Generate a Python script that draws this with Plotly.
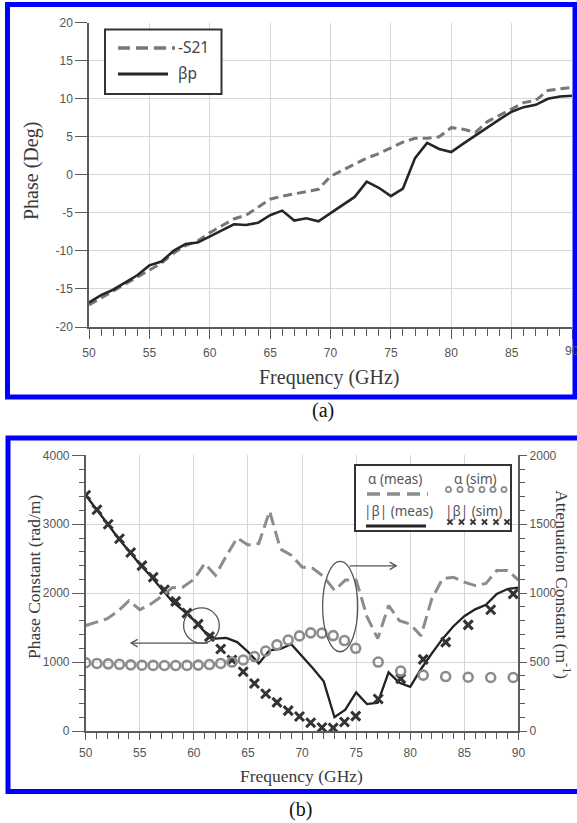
import plotly.graph_objects as go

W, H = 577, 823

# ---------------- (a) phase of -S21 and beta*p ----------------
freq_a = list(range(50, 91))
phase_s21 = [-17.1, -16.2, -15.3, -14.4, -13.4, -12.5, -11.6, -10.3, -9.3, -8.7,
             -7.6, -6.7, -5.8, -5.3, -4.3, -3.2, -2.8, -2.5, -2.2, -1.9,
             -0.2, 0.6, 1.4, 2.2, 2.8, 3.5, 4.3, 4.8, 4.8, 5.0,
             6.2, 6.0, 5.6, 7.0, 7.8, 8.7, 9.5, 9.8, 11.1, 11.3, 11.5]
phase_bp = [-16.8, -15.8, -15.1, -14.2, -13.2, -11.9, -11.4, -10.0, -9.1, -8.9,
            -8.1, -7.3, -6.5, -6.6, -6.3, -5.3, -4.7, -6.0, -5.7, -6.1,
            -5.0, -3.9, -2.9, -0.9, -1.7, -2.8, -1.8, 2.2, 4.2, 3.4,
            3.0, 4.1, 5.2, 6.3, 7.3, 8.3, 8.9, 9.2, 10.0, 10.3, 10.4]

# ---------------- (b) phase / attenuation constants ----------------
freq_meas = list(range(50, 91))
beta_meas = [3420, 3220, 3010, 2800, 2610, 2420, 2250, 2060, 1880, 1750,
             1610, 1440, 1340, 1350, 1290, 1150, 980, 1170, 1190, 1260,
             1090, 910, 720, 200, 310, 560, 390, 410, 850, 700,
             640, 900, 1125, 1340, 1520, 1665, 1765, 1830, 1990, 2060, 2080]
alpha_meas = [765, 790, 815, 870, 945, 880, 920, 975, 1040, 1045,
              1100, 1215, 1130, 1270, 1400, 1350, 1360, 1595, 1320, 1275,
              1190, 1180, 1120, 1020, 1095, 1095, 830, 670, 910, 800,
              775, 690, 960, 1105, 1115, 1080, 1055, 1070, 1165, 1165, 1095]

freq_sim = [50.00, 51.04, 52.08, 53.12, 54.16, 55.20, 56.24, 57.28, 58.32, 59.36,
            60.40, 61.44, 62.48, 63.52, 64.56, 65.60, 66.64, 67.68, 68.72, 69.76,
            70.80, 71.84, 72.88, 73.92, 74.96, 77.04, 79.12, 81.20, 83.28, 85.36,
            87.44, 89.52]
beta_sim = [3420, 3210, 3000, 2790, 2590, 2400, 2230, 2050, 1880, 1710,
            1550, 1370, 1190, 1030, 860, 690, 540, 415, 295, 210,
            120, 50, 45, 130, 215, 465, 760, 1040, 1290, 1540,
            1760, 1990]
alpha_sim = [495, 490, 487, 484, 480, 477, 476, 475, 475, 476,
             478, 482, 490, 500, 515, 540, 580, 625, 660, 690,
             712, 710, 692, 656, 600, 500, 435, 405, 395, 390,
             388, 388]

# tick labels
freq_ticks = [50, 55, 60, 65, 70, 75, 80, 85, 90]
freq_labels = [str(v) for v in freq_ticks]
phase_ticks = [-20, -15, -10, -5, 0, 5, 10, 15, 20]
phase_labels = [str(v) for v in phase_ticks]
beta_ticks = [0, 1000, 2000, 3000, 4000]
alpha_ticks = [0, 500, 1000, 1500, 2000]

GRID = "#d6d6d6"
AXIS = "#5c5c5c"
TICKFONT = dict(family="Liberation Sans Narrow, Liberation Sans, Arial", size=12, color="#555555")
SERIF = "Liberation Serif, Times New Roman, serif"
SANS = "Noto Sans, Open Sans, sans-serif"


def px(x):
    return x / W


def py(y):
    return 1 - y / H


fig = go.Figure()

# (a)
fig.add_trace(go.Scatter(x=freq_a, y=phase_s21, mode="lines", xaxis="x", yaxis="y",
                         line=dict(color="#777777", width=3, dash="9px,5px")))
fig.add_trace(go.Scatter(x=freq_a, y=phase_bp, mode="lines", xaxis="x", yaxis="y",
                         line=dict(color="#262626", width=2.6)))

# (b)
fig.add_trace(go.Scatter(x=freq_meas, y=alpha_meas, mode="lines", xaxis="x2", yaxis="y3",
                         line=dict(color="#8c8c8c", width=3, dash="13px,6px")))
fig.add_trace(go.Scatter(x=freq_sim, y=alpha_sim, mode="markers", xaxis="x2", yaxis="y3",
                         marker=dict(symbol="circle-open", size=9, color="#8c8c8c",
                                     line=dict(width=2.6, color="#8c8c8c"))))
fig.add_trace(go.Scatter(x=freq_meas, y=beta_meas, mode="lines", xaxis="x2", yaxis="y2",
                         line=dict(color="#222222", width=2.3)))
fig.add_trace(go.Scatter(x=freq_sim, y=beta_sim, mode="markers", xaxis="x2", yaxis="y2",
                         marker=dict(symbol="x-thin", size=9, color="#333333",
                                     line=dict(width=3, color="#333333"))))

common_x = dict(range=[50, 90], tickmode="array", tickvals=freq_ticks, showgrid=True,
                gridcolor=GRID, gridwidth=1, showline=True, linecolor=AXIS, linewidth=1.5,
                ticks="outside", tickcolor=AXIS, tickwidth=1, zeroline=False,
                tickfont=TICKFONT, automargin=False)

# the last label of (a) sits under the frame edge; it is drawn separately below
freq_labels_a = freq_labels[:-1] + [""]

fig.update_layout(
    width=W, height=H, margin=dict(l=0, r=0, t=0, b=0),
    paper_bgcolor="white", plot_bgcolor="white", showlegend=False,
    xaxis=dict(common_x, domain=[px(89), px(572)], anchor="y", ticklen=10,
               ticktext=freq_labels_a,
               minor=dict(dtick=1, tick0=50, ticks="outside", ticklen=7, tickcolor=AXIS, showgrid=False),
               ticklabelstandoff=4),
    yaxis=dict(domain=[py(327), py(22.7)], anchor="x", range=[-20, 20], tickmode="array",
               tickvals=phase_ticks, ticktext=phase_labels, showgrid=True, gridcolor=GRID,
               showline=True, linecolor=AXIS, linewidth=1.5, ticks="outside", ticklen=12,
               tickcolor=AXIS, zeroline=False, tickfont=TICKFONT, automargin=False),
    xaxis2=dict(common_x, domain=[px(85.7), px(518.4)], anchor="y2", ticklen=7,
                ticktext=freq_labels,
                minor=dict(dtick=1, tick0=50, ticks="outside", ticklen=6, tickcolor=AXIS, showgrid=False),
                ticklabelstandoff=3),
    yaxis2=dict(domain=[py(731), py(455.3)], anchor="x2", range=[0, 4000], tickmode="array",
                tickvals=beta_ticks, showgrid=True, gridcolor=GRID, showline=True,
                linecolor=AXIS, linewidth=1.5, ticks="outside", ticklen=12, tickcolor=AXIS,
                minor=dict(dtick=200, tick0=0, ticks="outside", ticklen=5, tickcolor=AXIS, showgrid=False),
                zeroline=False, tickfont=TICKFONT, automargin=False),
    yaxis3=dict(overlaying="y2", side="right", anchor="x2", range=[0, 2000], tickmode="array",
                tickvals=alpha_ticks, showgrid=False, showline=True, linecolor=AXIS,
                linewidth=1.5, ticks="outside", ticklen=7, tickcolor=AXIS,
                minor=dict(dtick=100, tick0=0, ticks="outside", ticklen=5, tickcolor=AXIS),
                zeroline=False, tickfont=TICKFONT, automargin=False),
)

shapes = []
# legend box (a)
shapes.append(dict(type="rect", xref="paper", yref="paper", x0=px(105), x1=px(221.5),
                   y0=py(94), y1=py(29.5), line=dict(color="#333333", width=2),
                   fillcolor="white"))
shapes.append(dict(type="line", xref="paper", yref="paper", x0=px(118), x1=px(175),
                   y0=py(48), y1=py(48), line=dict(color="#777777", width=3.5, dash="12px,6px")))
shapes.append(dict(type="line", xref="paper", yref="paper", x0=px(118), x1=px(168),
                   y0=py(74), y1=py(74), line=dict(color="#262626", width=3)))

# legend box (b)
shapes.append(dict(type="rect", xref="paper", yref="paper", x0=px(355), x1=px(511),
                   y0=py(531), y1=py(465), line=dict(color="#333333", width=2),
                   fillcolor="white"))
shapes.append(dict(type="line", xref="paper", yref="paper", x0=px(367), x1=px(428),
                   y0=py(494), y1=py(494), line=dict(color="#8c8c8c", width=3.5, dash="13px,7px")))
shapes.append(dict(type="line", xref="paper", yref="paper", x0=px(366), x1=px(426),
                   y0=py(526), y1=py(526), line=dict(color="#222222", width=3)))
for cx in [448.5, 460, 471, 482, 493, 504]:
    shapes.append(dict(type="circle", xref="paper", yref="paper", x0=px(cx - 2.6), x1=px(cx + 2.6),
                       y0=py(489.5 + 2.6), y1=py(489.5 - 2.6), line=dict(color="#8c8c8c", width=1.8)))
for cx in [450, 461.5, 473, 484.5, 496, 507]:
    for d in (1, -1):
        shapes.append(dict(type="line", xref="paper", yref="paper", x0=px(cx - 2.6), x1=px(cx + 2.6),
                           y0=py(522 - 2.6 * d), y1=py(522 + 2.6 * d),
                           line=dict(color="#333333", width=2)))

# callouts in (b): circle and ellipse with arrows
CALLOUT = dict(color="#555555", width=1.3)
shapes.append(dict(type="circle", xref="x2", yref="y2", x0=59.05, x1=62.35, y0=1275, y1=1785,
                   line=CALLOUT))
shapes.append(dict(type="circle", xref="x2", yref="y2", x0=71.9, x1=75.15, y0=1150, y1=2460,
                   line=CALLOUT))
# arrow to the left axis
shapes.append(dict(type="line", xref="x2", yref="y2", x0=61.3, x1=54.2, y0=1275, y1=1275,
                   line=CALLOUT))
shapes.append(dict(type="path", xref="x2", yref="y2",
                   path="M 54.8,1330 L 54.2,1275 L 54.8,1220", line=CALLOUT))
# arrow to the right axis
shapes.append(dict(type="line", xref="x2", yref="y3", x0=74.4, x1=78.7, y0=1198, y1=1198,
                   line=CALLOUT))
shapes.append(dict(type="path", xref="x2", yref="y3",
                   path="M 78.1,1225 L 78.7,1198 L 78.1,1171", line=CALLOUT))

# blue frames around the two panels
shapes.append(dict(type="rect", xref="paper", yref="paper", x0=px(7.5), x1=px(575),
                   y0=py(397), y1=py(4.5), line=dict(color="#0000ff", width=5)))
shapes.append(dict(type="rect", xref="paper", yref="paper", x0=px(8), x1=px(590),
                   y0=py(791.5), y1=py(438), line=dict(color="#0000ff", width=5)))

annotations = []


def label(x, y, text, size, family, color="#333333", angle=0, xanchor="center"):
    annotations.append(dict(x=px(x), y=py(y), xref="paper", yref="paper", text=text,
                            showarrow=False, textangle=angle, xanchor=xanchor, yanchor="middle",
                            font=dict(size=size, family=family, color=color)))


label(572, 351, freq_labels[-1], 12, TICKFONT["family"], "#555555")
label(32, 171, "Phase (Deg)", 20, SERIF, "#3a3a3a", -90)
label(330, 377, "Frequency (GHz)", 20, SERIF, "#3a3a3a")
label(323, 410, "(a)", 20, SERIF, "#111111")
label(176, 47, "-S21", 15.5, SANS, "#444444", xanchor="left")
label(176, 73, "βp", 15.5, SANS, "#444444", xanchor="left")

label(34, 577, "Phase Constant (rad/m)", 17.5, SERIF, "#3a3a3a", -90)
label(563, 584, "Attenuation Constant (m<sup>-1</sup>)", 17.5, SERIF, "#3a3a3a", 90)
label(301, 776, "Frequency (GHz)", 17.5, SERIF, "#3a3a3a")
label(300, 809, "(b)", 20, SERIF, "#111111")
label(395, 479, "α (meas)", 13.5, SANS, "#555555")
label(475, 479, "α (sim)", 13.5, SANS, "#555555")
label(398, 511, "|β| (meas)", 13.5, SANS, "#555555")
label(473, 511, "|β| (sim)", 13.5, SANS, "#555555")

fig.update_layout(shapes=shapes, annotations=annotations)

fig.write_html("out.html")
